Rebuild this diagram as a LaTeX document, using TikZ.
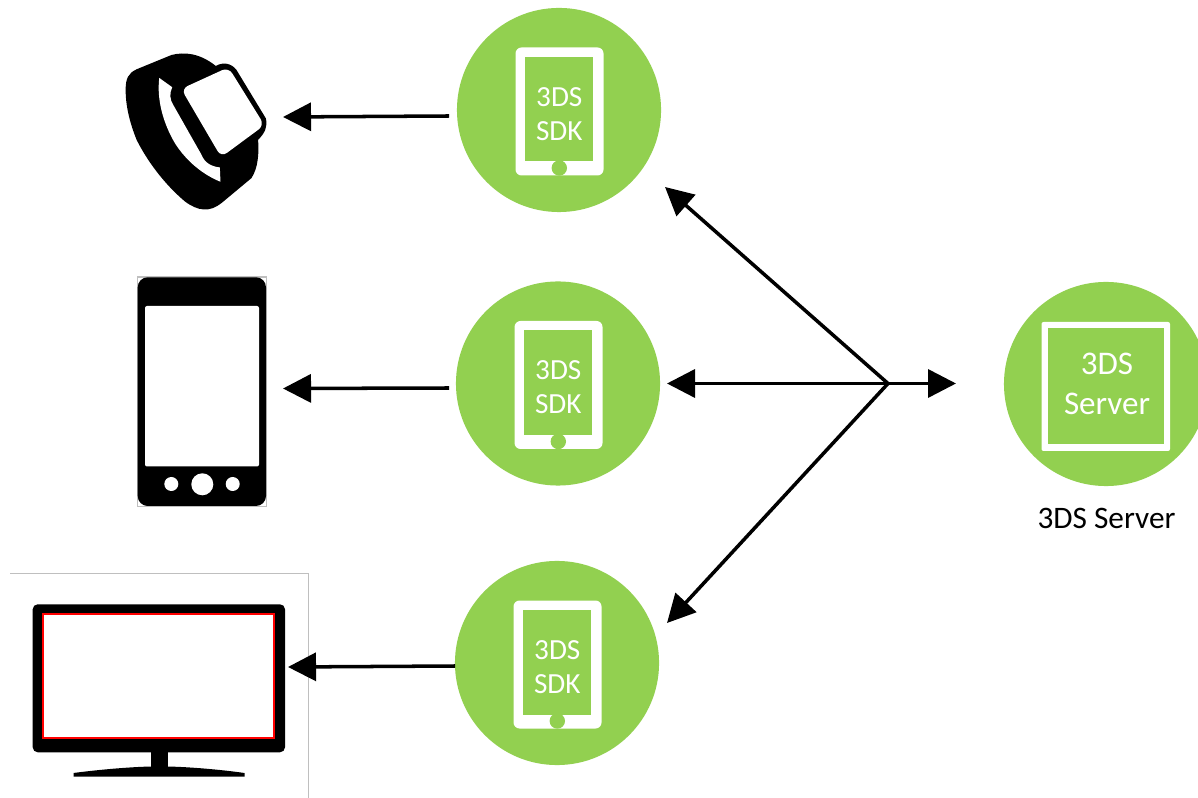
\documentclass[tikz,border=0pt]{standalone}
\usepackage{fontspec}
\setmainfont{Carlito}
\usetikzlibrary{arrows.meta}
\definecolor{dsgreen}{HTML}{92D050}
\tikzset{
	disc/.style={circle, fill=dsgreen, minimum size=2.04cm, inner sep=0pt},
	icontext/.style={text=white, font=\fontsize{8.3}{10}\selectfont, inner sep=0pt},
	servertext/.style={text=white, font=\fontsize{9.4}{11}\selectfont, inner sep=0pt},
	link/.style={line width=1pt, -{Triangle[length=0.28cm, width=0.28cm]}},
	edgeline/.style={draw=black!25, line width=0.3pt}
}
\def\sdktablet(#1)(#2,#3){
	\node[disc] (#1) at (#2, #3) {};
	\begin{scope}[shift={(#2, #3)}]
		\fill[white, rounded corners=0.06cm] (-43.5, -62.5) rectangle (44.5, 65.5);
		\fill[dsgreen] (-34, -53) rectangle (34, 51.5);
		\fill[dsgreen] (0.3, 58) circle (7.7);
		\node[icontext] (#1up) at (0.3, -13) {3DS};
		\node[icontext] (#1down) at (0.3, 21) {SDK};
	\end{scope}
}

\begin{document}
\begin{tikzpicture}[x=0.01cm, y=-0.01cm]
		%%%%% START %%%%%
		\useasboundingbox (0, 0) rectangle (1198, 798);
		\clip (0, 0) rectangle (1198, 798);
		\fill[white] (0, 0) rectangle (1198, 798);
		
		\sdktablet(sdkwatch)(559, 110)
		\sdktablet(sdkphone)(558, 383.5)
		\sdktablet(sdktv)(557, 663)
		
		\node[disc] (server) at (1106, 384) {};
		\fill[white, rounded corners=0.02cm] (1041.5, 322) rectangle (1170, 451);
		\fill[dsgreen] (1048, 328.5) rectangle (1164, 444.5);
		\node[servertext] (serverup) at (1107, 364) {3DS};
		\node[servertext] (serverdown) at (1107, 404) {Server};
		\node[font=\fontsize{8.9}{11}\selectfont, inner sep=0pt] (serverlabel) at (1106.5, 518) {3DS Server};
		
		% watch
		\begin{scope}[shift={(110, 40)}, x=0.00333cm, y=-0.00333cm]
			\fill[black] (47, 150) .. controls (47, 115) and (55, 100) .. (80, 88)
				-- (185, 45) .. controls (225, 35) and (270, 40) .. (318, 78)
				.. controls (340, 65) and (365, 70) .. (380, 90)
				-- (468, 235) .. controls (475, 260) and (465, 280) .. (445, 300)
				.. controls (448, 340) and (445, 385) .. (425, 415)
				-- (335, 490) .. controls (300, 518) and (265, 515) .. (225, 485)
				.. controls (160, 430) and (110, 360) .. (80, 300)
				.. controls (60, 250) and (47, 200) .. (47, 150) -- cycle;
			\fill[white] (148, 114) -- (187, 142) .. controls (178, 160) and (180, 180) .. (190, 195)
				-- (275, 345) .. controls (285, 370) and (305, 380) .. (330, 383)
				-- (332, 426) .. controls (280, 405) and (230, 365) .. (195, 310)
				.. controls (160, 250) and (140, 180) .. (148, 114) -- cycle;
			\fill[white, rounded corners=0.07cm] (214, 147) -- (356, 82) -- (464, 256) -- (334, 352) -- cycle;
		\end{scope}
		
		% phone
		\draw[edgeline] (137.5, 277) rectangle (266.5, 506.5);
		\fill[black, rounded corners=0.1cm] (137.7, 277.3) rectangle (266, 506);
		\fill[white, rounded corners=0.02cm] (145, 306) rectangle (259, 466.5);
		\fill[white] (171.3, 484) circle (7);
		\fill[white] (202.3, 484.3) circle (11);
		\fill[white] (232.7, 484) circle (7);
		
		% monitor
		\draw[edgeline] (10, 573.3) -- (308.3, 573.3) -- (308.3, 798);
		\fill[black, rounded corners=0.05cm] (32.7, 604.3) rectangle (285, 752.3);
		\draw[red, fill=white, line width=0.55pt] (42.7, 614) rectangle (274, 737.7);
		\fill[black] (151, 752) rectangle (167.5, 768);
		\fill[black] (73.5, 776.7) -- (73.5, 773) .. controls (100, 769.5) and (130, 767) .. (151, 766.5)
			-- (167.5, 766.5) .. controls (190, 767) and (220, 769.5) .. (244.5, 773) -- (244.5, 776.7) -- cycle;
		
		% arrows
		\coordinate (hub) at (888, 383.5);
		\coordinate (tipwatch) at (665, 187);
		\coordinate (tipphone) at (667, 383.5);
		\coordinate (tiptv) at (667, 623);
		\coordinate (tipserver) at (956, 383.5);
		\draw[link] (hub) -- (tipwatch);
		\draw[link] (hub) -- (tipphone);
		\draw[link] (hub) -- (tiptv);
		\draw[link] (hub) -- (tipserver);
		
		\coordinate (tailwatch) at (449, 116);
		\coordinate (headwatch) at (283, 117);
		\coordinate (tailphone) at (449, 388);
		\coordinate (headphone) at (283, 388.5);
		\coordinate (tailtv) at (455, 666);
		\coordinate (headtv) at (288, 667);
		\draw[link] (tailwatch) -- (headwatch);
		\draw[link] (tailphone) -- (headphone);
		\draw[link] (tailtv) -- (headtv);
		%%%%% END %%%%%
	\end{tikzpicture}
\end{document}
